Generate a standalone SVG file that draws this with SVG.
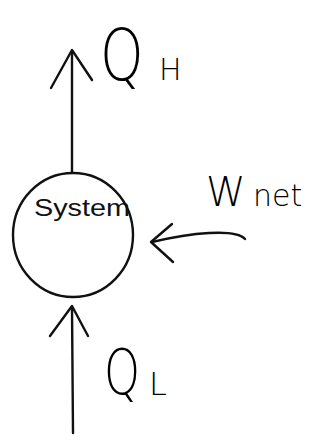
<svg xmlns="http://www.w3.org/2000/svg" width="325" height="440" viewBox="0 0 325 440">
<style>
.ln{fill:none;stroke:#111;stroke-width:2.4;stroke-linecap:round;stroke-linejoin:round}
.t{font-family:"DejaVu Sans ExtraLight","DejaVu Sans","Liberation Sans",sans-serif;font-weight:200;fill:#000}
.s{font-family:"Liberation Sans","DejaVu Sans",sans-serif;fill:#111}
</style>
<rect width="325" height="440" fill="#fff"/>
<g id="system">
<ellipse class="ln" cx="73" cy="235" rx="60" ry="62"/>
<text class="s" x="34" y="216" font-size="24" textLength="96" lengthAdjust="spacingAndGlyphs">System</text>
</g>
<g id="qh">
<text class="t" transform="translate(100,80) scale(0.77,1)" font-size="72">Q</text>
<text class="t" x="159" y="80" font-size="30">H</text>
</g>
<g id="wnet">
<text class="t" x="206" y="206" font-size="40">W</text>
<text class="t" x="253" y="206" font-size="30">net</text>
</g>
<g id="ql">
<text class="t" transform="translate(104,394) scale(0.74,1)" font-size="62">Q</text>
<text class="t" x="149" y="395" font-size="32">L</text>
</g>
<g id="connectors">
<path class="ln" d="M72 172 L72 52"/>
<path class="ln" d="M51 88 L72 50 L92 80"/>
<path class="ln" d="M245 239 C235 228 190 233 152 242"/>
<path class="ln" d="M172 224 L151 242 L173 262"/>
<path class="ln" d="M73 433 L72 308"/>
<path class="ln" d="M50 336 L72 306 L88 336"/>
</g>
</svg>
